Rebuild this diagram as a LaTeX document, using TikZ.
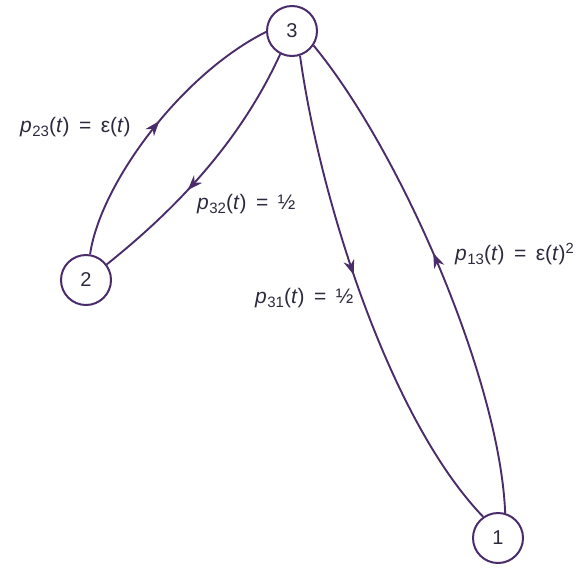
\documentclass[tikz,border=0pt]{standalone}
\usepackage{fontspec}
\setmainfont{Liberation Sans}
\usetikzlibrary{arrows.meta,decorations.markings}
\definecolor{edgecol}{HTML}{4A2C6A}
\definecolor{txtcol}{HTML}{2E2A3E}
\tikzset{
  state/.style={circle,draw=edgecol,line width=2pt,minimum size=50pt,inner sep=0pt,
                font=\fontsize{20}{22}\selectfont,text=txtcol},
  trans/.style={draw=edgecol,line width=1.9pt,
                postaction={decorate,decoration={markings,
                  mark=at position #1 with {\arrow{Stealth[length=15pt,width=11pt]}}}}},
  trans/.default=0.5,
  lbl/.style={font=\fontsize{21}{24}\selectfont,text=txtcol,inner sep=0pt,anchor=west}
}
\newcommand{\pp}[1]{\textit{p}\kern0.5pt\raisebox{-0.35ex}{\fontsize{15}{17}\selectfont #1}(\textit{t})}
\newcommand{\eqsign}{\hspace{0.45em}=\hspace{0.45em}}
\begin{document}
\begin{tikzpicture}[x=1pt,y=-1pt]
  \useasboundingbox (0,0) rectangle (577,571);
  % states
  \node[state] (n3) at (292,31) {3};
  \node[state] (n2) at (86,280) {2};
  \node[state] (n1) at (498,538) {1};
  % transitions
  \draw[trans=0.52] (n2.81) .. controls (100,185) and (180,75) .. (n3.182);
  \draw[trans=0.6] (n3.243) .. controls (250,120) and (200,190) .. (n2.37);
  \draw[trans=0.45] (n3.288) .. controls (320,200) and (390,420) .. (n1.125);
  \draw[trans=0.53] (n1.74) .. controls (500,380) and (400,150) .. (n3.326);
  % labels
  \node[lbl] (l23) at (20,127) {\pp{23}\eqsign ε(\textit{t})};
  \node[lbl] (l32) at (197,204) {\pp{32}\eqsign ½};
  \node[lbl] (l31) at (255,298) {\pp{31}\eqsign ½};
  \node[lbl] (l13) at (455,254) {\pp{13}\eqsign ε(\textit{t})\textsuperscript{2}};
\end{tikzpicture}
\end{document}
